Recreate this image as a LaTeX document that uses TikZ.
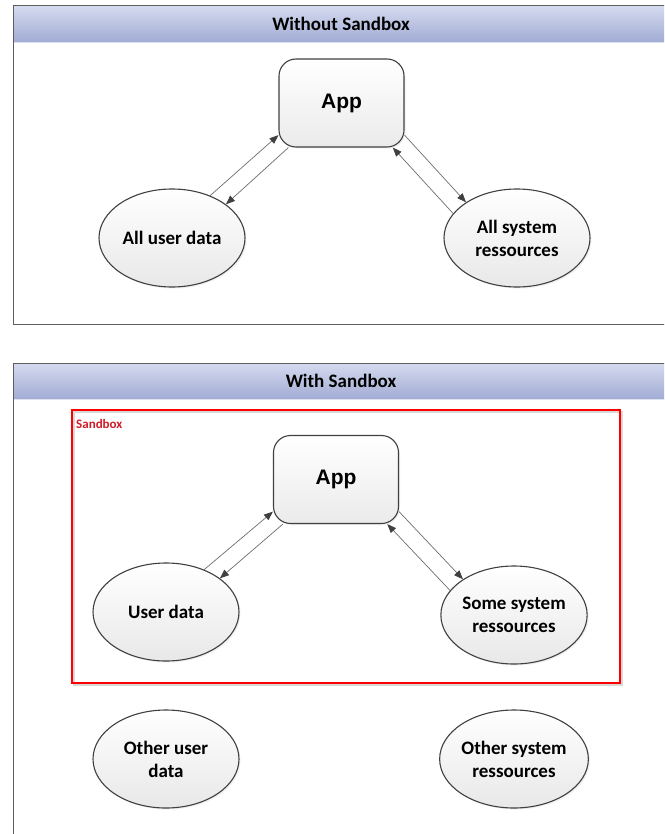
\documentclass[tikz,border=0pt]{standalone}
\usepackage{fontspec}
\setmainfont{Carlito}
\newfontfamily\arialfont{Liberation Sans}
\usetikzlibrary{shapes.geometric,arrows.meta,shadows}
\definecolor{frameline}{HTML}{5E5E5E}
\definecolor{hdrtop}{HTML}{D4DAEF}
\definecolor{hdrbot}{HTML}{A2ACD4}
\definecolor{nodeline}{HTML}{404040}
\definecolor{conn}{HTML}{6E6E6E}
\definecolor{tipc}{HTML}{404040}
\definecolor{sbred}{HTML}{FF0000}
\definecolor{sbtext}{HTML}{D01C28}
\begin{document}
\begin{tikzpicture}[x=1pt,y=1pt,
  res/.style={ellipse, draw=nodeline, line width=1.1pt, top color=white, bottom color=black!9,
    minimum width=146pt, minimum height=98pt, inner sep=0pt, align=center,
    font=\bfseries\fontsize{19}{23}\selectfont,
    drop shadow={opacity=0.12, shadow xshift=1.5pt, shadow yshift=-1.5pt}},
  appbox/.style={rectangle, rounded corners=17pt, draw=nodeline, line width=1.1pt,
    top color=white, bottom color=black!8, minimum width=125pt, minimum height=88pt,
    font=\arialfont\bfseries\fontsize{21}{25}\selectfont,
    drop shadow={opacity=0.12, shadow xshift=1.5pt, shadow yshift=-1.5pt}},
  hdrtext/.style={font=\bfseries\fontsize{19}{23}\selectfont, text=black},
  framestroke/.style={draw=frameline, line width=1pt},
  flow/.style={draw=conn, line width=0.7pt, -{Triangle[length=9pt,width=7pt,color=tipc]}}
]
\clip (0,0) rectangle (664,-834);
\fill[white] (0,0) rectangle (664,-834);

% ---- top frame ----
\shade[top color=hdrtop, bottom color=hdrbot] (13,-6) rectangle (680,-42);
\draw[hdrbot!35!white, line width=1pt] (13,-42.5) -- (680,-42.5);
\draw[framestroke] (680,-6) -- (13,-6) -- (13,-324) -- (680,-324);
\node[hdrtext] (t1) at (341,-24) {Without Sandbox};

\node[appbox] (app1) at (341.5,-103) {App};
\node[res] (e1) at (172,-238) {All user data};
\node[res] (e2) at (517,-238) {All system\\ressources};

\draw[flow] (e1.48) -- (app1.207.5);
\draw[flow] (app1.220) -- (e1.32);
\draw[flow] (app1.333) -- (e2.145);
\draw[flow] (e2.159) -- (app1.319.5);

% ---- bottom frame ----
\shade[top color=hdrtop, bottom color=hdrbot] (13,-363) rectangle (680,-399);
\draw[hdrbot!35!white, line width=1pt] (13,-399.5) -- (680,-399.5);
\draw[framestroke] (680,-363) -- (13,-363) -- (13,-840);
\node[hdrtext] (t2) at (341,-381) {With Sandbox};

\draw[black!15, line width=2pt] (74,-412) rectangle (622,-685);
\draw[sbred, line width=2.6pt] (72,-410) rectangle (620,-683);
\node[anchor=west, inner sep=0pt, text=sbtext, font=\bfseries\fontsize{13}{15}\selectfont] (sb) at (76,-424) {Sandbox};

\node[appbox] (app2) at (336,-479.5) {App};
\node[res] (e3) at (166,-612) {User data};
\node[res] (e4) at (514,-615) {Some system\\ressources};

\draw[flow] (e3.48) -- (app2.207.5);
\draw[flow] (app2.220) -- (e3.32);
\draw[flow] (app2.333) -- (e4.145);
\draw[flow] (e4.159) -- (app2.319.5);

\node[res] (e5) at (166,-759) {Other user\\data};
\node[res] (e6) at (514,-759) {Other system\\ressources};
\end{tikzpicture}
\end{document}
